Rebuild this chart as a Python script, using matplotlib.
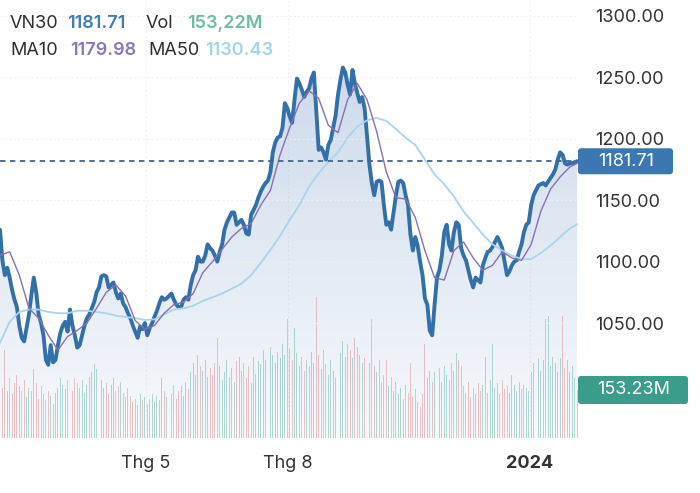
import numpy as np
import matplotlib
matplotlib.use("Agg")
import matplotlib.pyplot as plt
from matplotlib.patches import FancyBboxPatch
from matplotlib.transforms import IdentityTransform

plt.rcParams['font.family'] = ['Inter', 'DejaVu Sans']

# VN30 daily close (trading-day index 0..239)
price = [
    1126, 1101, 1089, 1095, 1087, 1077, 1069, 1063, 1048, 1038,
    1035, 1046, 1057, 1073, 1087, 1075, 1057, 1050, 1040, 1020,
    1016, 1032, 1018, 1020, 1032, 1042, 1048, 1051, 1043, 1061,
    1048, 1040, 1030, 1032, 1040, 1048, 1054, 1057, 1062, 1067,
    1075, 1079, 1088, 1089, 1088, 1079, 1081, 1083, 1075, 1070,
    1074, 1066, 1063, 1058, 1054, 1048, 1043, 1038, 1047, 1045,
    1050, 1040, 1046, 1050, 1055, 1060, 1066, 1071, 1069, 1070,
    1072, 1074, 1069, 1065, 1063, 1063, 1069, 1071, 1069, 1081,
    1089, 1093, 1104, 1100, 1100, 1105, 1114, 1111, 1109, 1105,
    1100, 1108, 1114, 1126, 1132, 1136, 1140, 1140, 1130, 1132,
    1134, 1130, 1123, 1122, 1138, 1142, 1146, 1152, 1157, 1161,
    1164, 1166, 1173, 1189, 1197, 1201, 1202, 1209, 1229, 1225,
    1218, 1213, 1232, 1249, 1245, 1240, 1234, 1238, 1241, 1249,
    1254, 1223, 1191, 1193, 1189, 1183, 1195, 1199, 1209, 1219,
    1236, 1248, 1258, 1254, 1244, 1236, 1256, 1245, 1237, 1230,
    1234, 1225, 1203, 1179, 1164, 1154, 1165, 1166, 1165, 1146,
    1130, 1132, 1126, 1140, 1154, 1165, 1166, 1164, 1154, 1146,
    1122, 1109, 1120, 1113, 1100, 1089, 1070, 1065, 1044, 1040,
    1065, 1087, 1093, 1105, 1124, 1130, 1114, 1109, 1124, 1132,
    1130, 1111, 1105, 1101, 1093, 1085, 1079, 1087, 1085, 1083,
    1097, 1103, 1108, 1109, 1112, 1116, 1120, 1116, 1111, 1100,
    1089, 1092, 1097, 1100, 1101, 1108, 1114, 1124, 1130, 1132,
    1146, 1154, 1158, 1162, 1163, 1164, 1162, 1165, 1168, 1171,
    1175, 1183, 1189, 1187, 1180, 1179, 1180, 1180, 1181, 1181.71,
]

# moving averages, read every four sessions
ma_days = list(range(0, 240, 4)) + [239]
ma10 = [
    1105, 1108, 1089, 1062, 1054, 1040, 1028, 1039, 1044, 1050,
    1062, 1075, 1081, 1072, 1052, 1045, 1048, 1058, 1065, 1067,
    1074, 1091, 1100, 1110, 1120, 1127, 1131, 1146, 1158, 1187,
    1209, 1229, 1239, 1233, 1211, 1205, 1232, 1245, 1232, 1206,
    1173, 1152, 1151, 1136, 1109, 1087, 1085, 1109, 1116, 1103,
    1093, 1097, 1108, 1103, 1101, 1114, 1141, 1159, 1169, 1177,
    1179.98,
]
ma50 = [
    1034, 1051, 1059, 1061, 1061, 1059, 1058, 1058, 1060, 1060,
    1059, 1058, 1056, 1055, 1054, 1052.5, 1053, 1057, 1061, 1062,
    1064, 1068, 1071, 1074, 1078, 1082, 1089, 1099, 1109.5, 1121,
    1134, 1146, 1161, 1172, 1181, 1189, 1201, 1210, 1215, 1217,
    1214.5, 1208, 1201, 1195, 1183, 1171, 1163, 1153, 1141, 1131.5,
    1122, 1114, 1109, 1105, 1102, 1102, 1107, 1113, 1120, 1127,
    1130.43,
]

# volume, millions of shares
volume = [
    170, 160, 280, 150, 190, 140, 175, 200, 165, 150,
    185, 130, 160, 150, 220, 175, 125, 165, 140, 120,
    150, 135, 110, 145, 160, 190, 170, 155, 185, 165,
    150, 190, 175, 160, 185, 145, 170, 195, 210, 235,
    220, 240, 185, 160, 175, 140, 170, 190, 150, 165,
    180, 145, 130, 160, 135, 115, 125, 105, 140, 120,
    130, 110, 125, 140, 115, 135, 120, 190, 150, 130,
    160, 140, 170, 125, 150, 165, 135, 180, 155, 210,
    240, 200, 265, 230, 215, 250, 195, 225, 200, 240,
    320, 230, 185, 210, 250, 195, 225, 180, 245, 260,
    215, 240, 190, 230, 175, 260, 205, 245, 235, 280,
    250, 225, 290, 265, 240, 275, 255, 300, 265, 380,
    285, 250, 350, 270, 230, 260, 215, 250, 230, 275,
    240, 450, 265, 220, 280, 235, 200, 250, 215, 190,
    230, 270, 310, 260, 300, 280, 255, 320, 290, 265,
    240, 255, 215, 240, 380, 230, 210, 250, 180, 200,
    250, 165, 195, 150, 180, 140, 160, 125, 170, 145,
    240, 130, 155, 115, 100, 140, 300, 190, 215, 180,
    210, 195, 225, 180, 230, 200, 185, 240, 215, 270,
    250, 230, 165, 145, 180, 130, 160, 140, 175, 150,
    170, 260, 145, 185, 300, 160, 175, 140, 185, 155,
    165, 145, 200, 170, 150, 180, 155, 170, 160, 150,
    210, 240, 430, 255, 215, 250, 380, 390, 230, 260,
    240, 210, 255, 390, 225, 250, 210, 230, 190, 153.23,
]

price_ticks = [1050, 1100, 1150, 1200, 1250, 1300]
month_days = [60.5, 119.3, 219.5]
month_labels = ['Thg 5', 'Thg 8', '2024']

W, H = 700, 493
plot_w, plot_h = 578, 438
fig = plt.figure(figsize=(W / 100, H / 100), dpi=100)
ax_vol = fig.add_axes([0, 1 - plot_h / H, plot_w / W, plot_h / H])
ax = ax_vol.twinx()
ax.set_zorder(ax_vol.get_zorder() + 1)
ax.patch.set_visible(False)

days = np.arange(len(price))
x_max = 239.4
y_min, y_max = 956.4, 1313.0

# volume bars, coloured by day change
up = np.diff(price, prepend=price[0] - 1) >= 0
ax_vol.bar(days, volume, width=0.4, color=np.where(up, '#a9d6cc', '#f2bcbf'),
           alpha=0.85, linewidth=0)
ax_vol.set_ylim(0, 1398)
ax_vol.set_xlim(0, x_max)

# gradient fill under the price
grad = np.zeros((256, 1, 4))
grad[:, 0, 0] = 0.24
grad[:, 0, 1] = 0.45
grad[:, 0, 2] = 0.70
grad[:, 0, 3] = np.linspace(0.30, 0.04, 256)
im = ax.imshow(grad, extent=[0, x_max, y_min, y_max], aspect='auto',
               origin='upper', zorder=1)
poly = ax.fill_between(days, price, y_min, facecolor='none', edgecolor='none')
im.set_clip_path(poly.get_paths()[0], transform=ax.transData)

ax.plot(days, price, color='#3370a9', lw=2.8, zorder=3,
        solid_joinstyle='round', solid_capstyle='round')
ax.plot(ma_days, ma50, color='#a9d4ec', lw=1.3, zorder=4)
ax.plot(ma_days, ma10, color='#8a6fb3', lw=1.0, zorder=5)
ax.axhline(price[-1], color='#44658a', lw=1.3, ls=(0, (3, 2.5)), zorder=6)

ax.set_xlim(0, x_max)
ax.set_ylim(y_min, y_max)

ax.set_yticks(price_ticks)
ax.set_yticklabels([f'{v:.2f}' for v in price_ticks])
ax.yaxis.set_ticks_position('right')
ax.tick_params(axis='y', length=0, pad=12.2, labelsize=13, labelcolor='#333333')
ax.grid(axis='y', color='#f0f0f0', lw=0.8, ls=(0, (2, 2)))

ax_vol.set_yticks([])
ax_vol.set_xticks(month_days)
ax_vol.set_xticklabels(month_labels)
ax_vol.tick_params(axis='x', length=0, pad=12, labelsize=13, labelcolor='#333333')
ax_vol.get_xticklabels()[-1].set_fontweight('bold')
ax_vol.grid(axis='x', color='#f2f2f2', lw=0.8, ls=(0, (2, 2)))

for a in (ax, ax_vol):
    for s in a.spines.values():
        s.set_visible(False)

# last-value tags on the right
py = ax.transData.transform((0, price[-1]))[1]
fig.add_artist(FancyBboxPatch((plot_w, py - 13), 95, 26,
                              boxstyle='round,pad=0,rounding_size=3',
                              transform=IdentityTransform(), fc='#3b77b0', ec='none'))
fig.text(plot_w + 48, py, f'{price[-1]:.2f}', transform=IdentityTransform(),
         ha='center', va='center', color='white', fontsize=13)

vy = ax_vol.transData.transform((0, volume[-1]))[1]
fig.add_artist(FancyBboxPatch((plot_w, vy - 14), 110, 28,
                              boxstyle='round,pad=0,rounding_size=3',
                              transform=IdentityTransform(), fc='#3a9c8a', ec='none'))
fig.text(plot_w + 56, vy, f'{volume[-1]:.2f}M', transform=IdentityTransform(),
         ha='center', va='center', color='white', fontsize=13)

# header legend
dark = '#2e2e2e'
header = [
    ('VN30', 10, 28, dark, 'normal'), ('1181.71', 67, 28, '#3f7cb1', 'semibold'),
    ('Vol', 146, 28, dark, 'normal'), ('153,22M', 187, 28, '#6cbca9', 'semibold'),
    ('MA10', 10, 55, dark, 'normal'), ('1179.98', 70, 55, '#8b77b8', 'semibold'),
    ('MA50', 148, 55, dark, 'normal'), ('1130.43', 205, 55, '#a6d3ea', 'semibold'),
]
for txt, hx, hy, col, wt in header:
    fig.text(hx, H - hy, txt, transform=IdentityTransform(), ha='left',
             va='baseline', color=col, fontsize=13, fontweight=wt)

fig.savefig('out.png', dpi=100)
